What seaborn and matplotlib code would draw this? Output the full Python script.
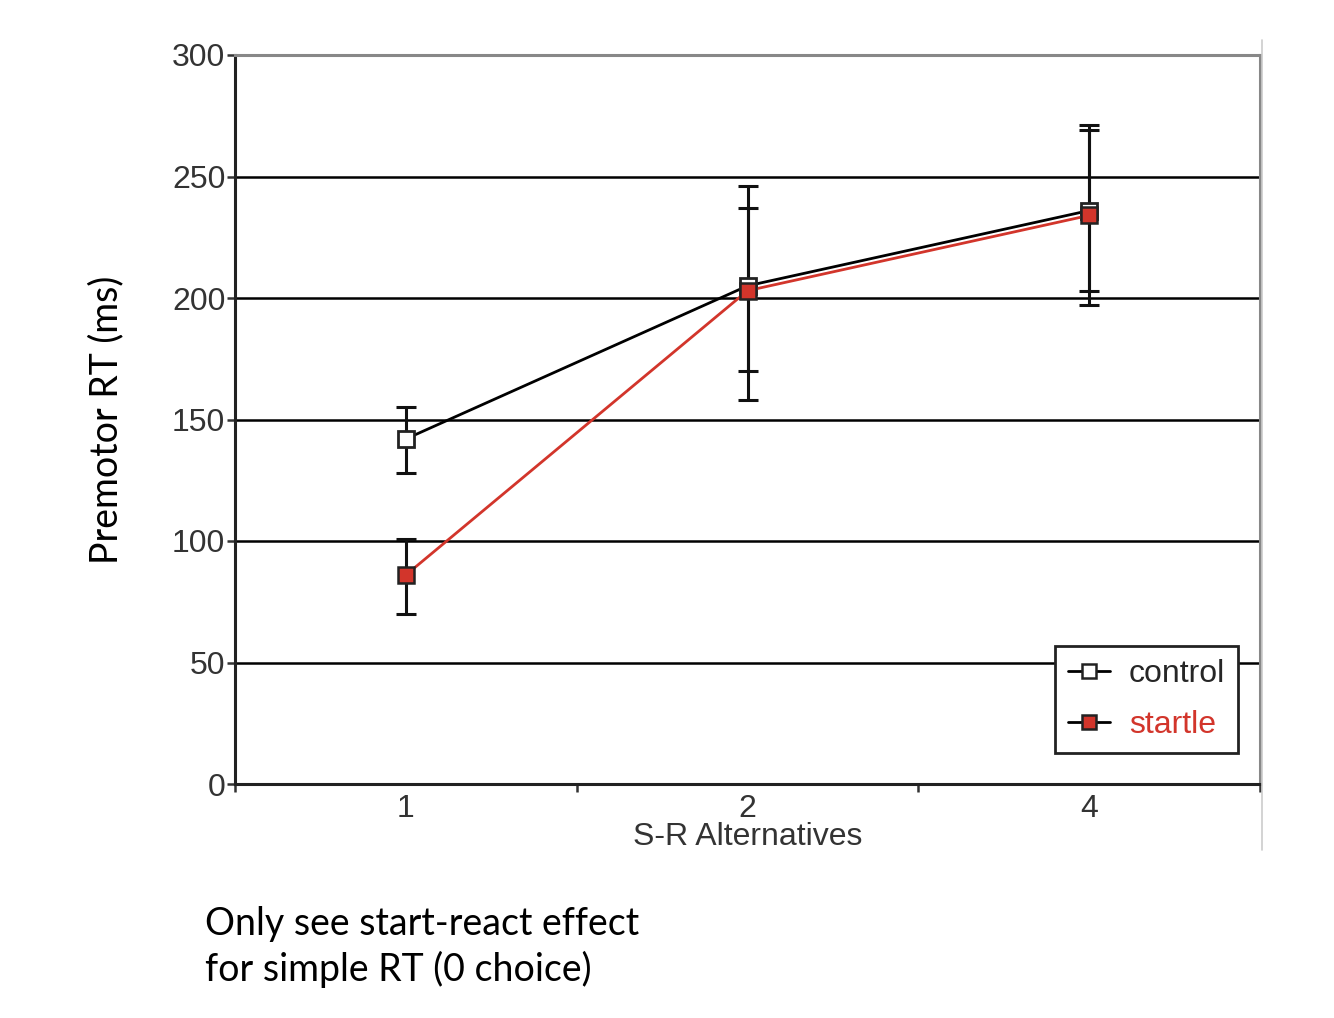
import numpy as np
import pandas as pd
import matplotlib
matplotlib.use("Agg")
import matplotlib.pyplot as plt
import seaborn as sns
from matplotlib.lines import Line2D

# Données
alternatives = ["1", "2", "4"]
control_mean = [142, 205, 236]
control_low = [128, 158, 197]
control_high = [155, 246, 271]
startle_mean = [86, 203, 234]
startle_low = [70, 170, 203]
startle_high = [101, 237, 269]

red = "#d2352b"

sns.set_theme(style="white")
plt.rcParams["font.family"] = ["Liberation Sans", "DejaVu Sans"]

fig = plt.figure(figsize=(13.34, 10.18), dpi=100)
ax = fig.add_axes([235 / 1334, 1 - 784 / 1018, 1025 / 1334, 729 / 1018])

pos = np.arange(len(alternatives))
df = pd.DataFrame({
    "pos": np.concatenate([pos, pos]),
    "rt": control_mean + startle_mean,
    "cond": ["control"] * 3 + ["startle"] * 3,
})

# lignes de grille horizontales
for yv in [50, 100, 150, 200, 250]:
    ax.axhline(yv, color="black", lw=1.8, zorder=1)

# barres d'erreur
for mean, lo, hi in [(control_mean, control_low, control_high),
                     (startle_mean, startle_low, startle_high)]:
    m = np.array(mean)
    yerr = [m - np.array(lo), np.array(hi) - m]
    ax.errorbar(pos, m, yerr=yerr, fmt="none", ecolor="#111111", elinewidth=2.2,
                capsize=7, capthick=2.2, zorder=2)

sns.lineplot(data=df[df.cond == "control"], x="pos", y="rt", ax=ax, color="black",
             lw=2, marker="s", markersize=12, markerfacecolor="white",
             markeredgecolor="#222222", markeredgewidth=2, zorder=3)
sns.lineplot(data=df[df.cond == "startle"], x="pos", y="rt", ax=ax, color=red,
             lw=2, marker="s", markersize=11, markerfacecolor=red,
             markeredgecolor="#222222", markeredgewidth=1.8, zorder=4)

ax.set_xlim(-0.5, 2.5)
ax.set_ylim(0, 300)
ax.set_yticks(range(0, 301, 50))
ax.set_xticks(pos)
ax.set_xticklabels(alternatives)
ax.set_xticks([-0.5, 0.5, 1.5, 2.5], minor=True)
ax.tick_params(axis="x", which="major", length=0, pad=7, labelsize=23, labelcolor="#333333")
ax.tick_params(axis="x", which="minor", length=6, width=1.8, color="#333333", direction="out")
ax.tick_params(axis="y", length=6, width=1.8, color="#333333", labelsize=23,
               labelcolor="#333333", direction="out", pad=1)
ax.xaxis.set_tick_params(bottom=True, which="minor")
ax.yaxis.set_tick_params(left=True)

for side in ["left", "bottom"]:
    ax.spines[side].set_color("#222222")
    ax.spines[side].set_linewidth(2.2)
for side in ["top", "right"]:
    ax.spines[side].set_color("#888888")
    ax.spines[side].set_linewidth(2.2)

ax.set_xlabel("S-R Alternatives", fontsize=23, color="#333333", labelpad=-1)
ax.set_ylabel("Premotor RT (ms)", fontsize=27, family=["Lato", "DejaVu Sans"],
              color="black", labelpad=34)

handles = [
    Line2D([], [], color="black", lw=2, marker="s", markersize=10,
           markerfacecolor="white", markeredgecolor="#222222", markeredgewidth=1.8),
    Line2D([], [], color="black", lw=2, marker="s", markersize=10,
           markerfacecolor=red, markeredgecolor="#222222", markeredgewidth=1.8),
]
leg = ax.legend(handles, ["control", "startle"], loc="lower right",
                bbox_to_anchor=(0.9785, 0.043), fontsize=23, frameon=True,
                fancybox=False, edgecolor="#222222", handlelength=1.3,
                handletextpad=0.6, borderpad=0.4, labelspacing=0.65,
                borderaxespad=0)
leg.get_frame().set_linewidth(2)
leg.get_frame().set_alpha(1)
leg.texts[1].set_color(red)

# trait gris vertical à droite (artefact du scan)
fig.add_artist(Line2D([1262 / 1334, 1262 / 1334], [1 - 40 / 1018, 1 - 850 / 1018],
                      color="#cccccc", lw=1.2))

fig.text(205 / 1334, 1 - 947 / 1018, "Only see start-react effect\nfor simple RT (0 choice)",
         fontsize=27, family=["Lato", "DejaVu Sans"], color="black",
         ha="left", va="center", linespacing=1.3)

fig.savefig("out.png", dpi=100, facecolor="white")
